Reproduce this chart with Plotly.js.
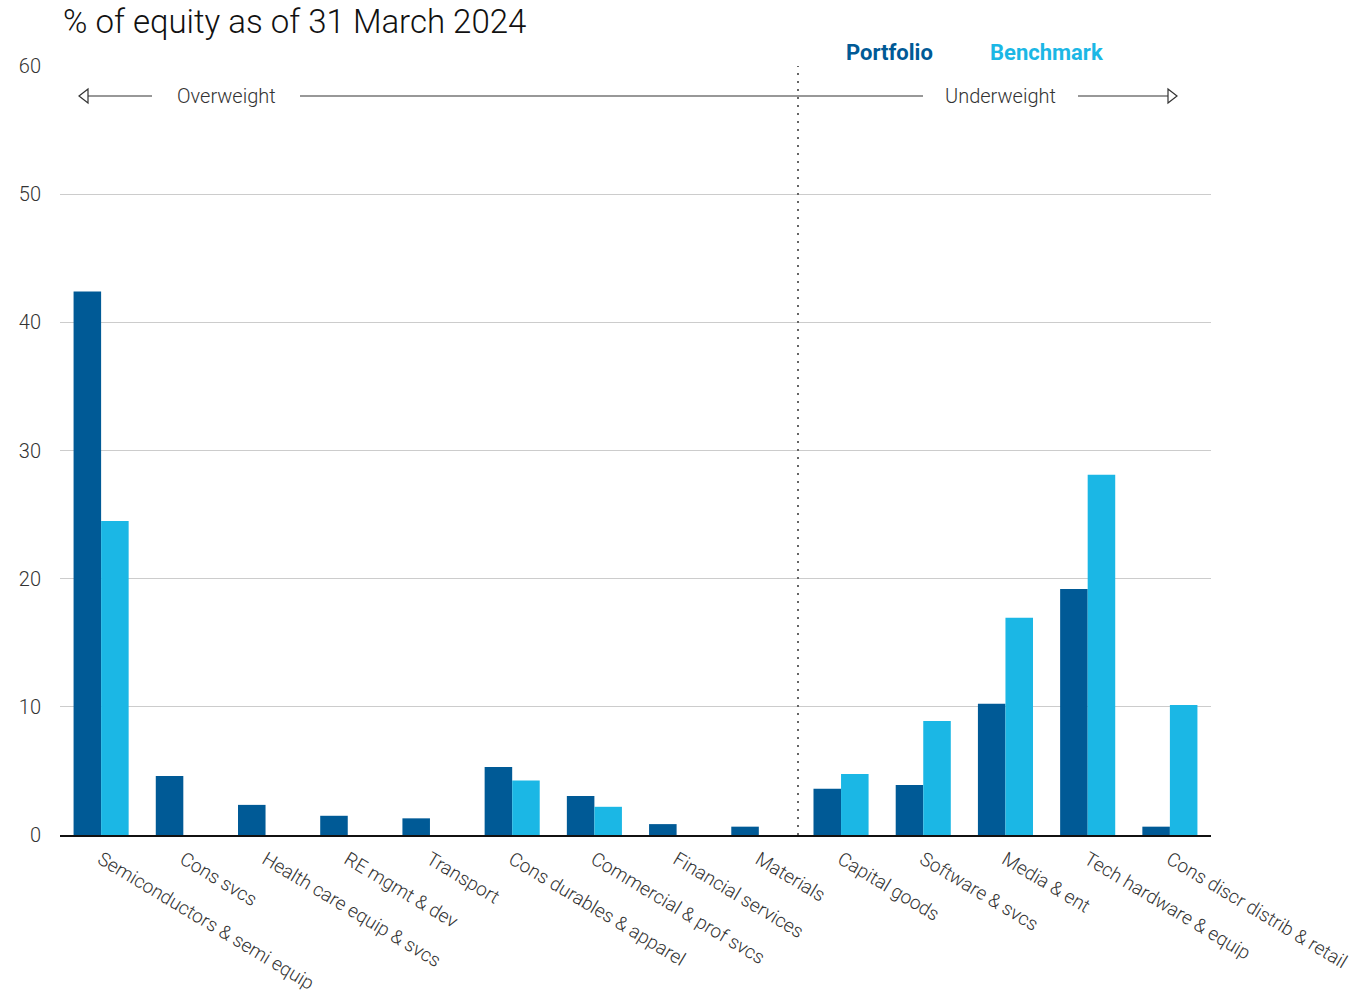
<!DOCTYPE html>
<html>
<head>
<meta charset="utf-8">
<script src="https://cdn.plot.ly/plotly-3.0.1.min.js"></script>
<style>html,body{margin:0;padding:0;background:#fff;}#chart{width:1369px;height:993px;}</style>
</head>
<body>
<div id="chart"></div>
<script>
const categories = [
  "Semiconductors & semi equip", "Cons svcs", "Health care equip & svcs", "RE mgmt & dev",
  "Transport", "Cons durables & apparel", "Commercial & prof svcs", "Financial services",
  "Materials", "Capital goods", "Software & svcs", "Media & ent",
  "Tech hardware & equip", "Cons discr distrib & retail"
];
const portfolio = [42.4, 4.6, 2.35, 1.5, 1.3, 5.3, 3.05, 0.85, 0.65, 3.6, 3.9, 10.25, 19.2, 0.65];
const benchmark = [24.5, 0, 0, 0, 0, 4.25, 2.2, 0, 0, 4.75, 8.9, 16.95, 28.1, 10.15];
const yTicks = [0, 10, 20, 30, 40, 50, 60];

const FONT = "Roboto, 'Liberation Sans', sans-serif";
const W = 1369, H = 993, L = 60, R = 1211, T = 66, B = 835;
const px = v => (v - L) / (R - L);
const py = v => (B - v) / (B - T);

const traces = [
  {type: "bar", name: "Portfolio", x: categories, y: portfolio,
   marker: {color: "#005A96", line: {width: 0}}, hoverinfo: "x+y"},
  {type: "bar", name: "Benchmark", x: categories, y: benchmark,
   marker: {color: "#1BB7E5", line: {width: 0}}, hoverinfo: "x+y"}
];

const arrowY = py(96);
const shapes = [
  {type: "line", xref: "paper", yref: "paper", x0: px(798), x1: px(798), y0: 0, y1: 1,
   line: {color: "#666", width: 2, dash: "2px,6px"}},
  {type: "line", xref: "paper", yref: "paper", x0: px(86), x1: px(152), y0: arrowY, y1: arrowY,
   line: {color: "#333", width: 1.2}},
  {type: "path", xref: "paper", yref: "paper",
   path: `M ${px(79)} ${arrowY} L ${px(88)} ${py(89)} L ${px(88)} ${py(103)} Z`,
   fillcolor: "#fff", line: {color: "#333", width: 1.2}},
  {type: "line", xref: "paper", yref: "paper", x0: px(300), x1: px(923), y0: arrowY, y1: arrowY,
   line: {color: "#333", width: 1.2}},
  {type: "line", xref: "paper", yref: "paper", x0: px(1078), x1: px(1168), y0: arrowY, y1: arrowY,
   line: {color: "#333", width: 1.2}},
  {type: "path", xref: "paper", yref: "paper",
   path: `M ${px(1177)} ${arrowY} L ${px(1168)} ${py(89)} L ${px(1168)} ${py(103)} Z`,
   fillcolor: "#fff", line: {color: "#333", width: 1.2}}
];

const annotations = [
  {xref: "paper", yref: "paper", x: px(226), y: arrowY, text: "Overweight", showarrow: false,
   xanchor: "center", yanchor: "middle", font: {family: FONT, size: 20, color: "#333", weight: 300}},
  {xref: "paper", yref: "paper", x: px(1000), y: arrowY, text: "Underweight", showarrow: false,
   xanchor: "center", yanchor: "middle", font: {family: FONT, size: 20, color: "#333", weight: 300}},
  {xref: "paper", yref: "paper", x: px(889), y: py(53), text: "Portfolio", showarrow: false,
   xanchor: "center", yanchor: "middle", font: {family: FONT, size: 22, color: "#005A96", weight: 700}},
  {xref: "paper", yref: "paper", x: px(1046), y: py(53), text: "Benchmark", showarrow: false,
   xanchor: "center", yanchor: "middle", font: {family: FONT, size: 22, color: "#1BB7E5", weight: 700}}
];

const layout = {
  width: W, height: H,
  margin: {l: L, r: W - R, t: T, b: H - B, pad: 0},
  paper_bgcolor: "#fff", plot_bgcolor: "#fff",
  title: {text: "% of equity as of 31 March 2024", x: 63 / W, xanchor: "left",
          yref: "container", y: 1 - 21 / H, yanchor: "middle",
          font: {family: FONT, size: 33, color: "#111", weight: 300}},
  showlegend: false,
  barmode: "group", bargap: 0.33, bargroupgap: 0,
  xaxis: {type: "category", range: [-0.5, 13.5], tickangle: 31, showgrid: false,
          showline: true, linecolor: "#111", linewidth: 2, ticks: "", zeroline: false,
          ticklabelstandoff: 4,
          tickfont: {family: FONT, size: 19, color: "#333", weight: 300}},
  yaxis: {range: [0, 60], tickvals: yTicks, ticktext: yTicks.map(String), showgrid: true,
          gridcolor: "#cccccc", gridwidth: 1, zeroline: false, showline: false, ticks: "",
          ticklabelstandoff: 18,
          tickfont: {family: FONT, size: 20, color: "#333", weight: 300}},
  shapes: shapes,
  annotations: annotations
};

Plotly.newPlot("chart", traces, layout, {displayModeBar: false, staticPlot: true});
</script>
</body>
</html>
